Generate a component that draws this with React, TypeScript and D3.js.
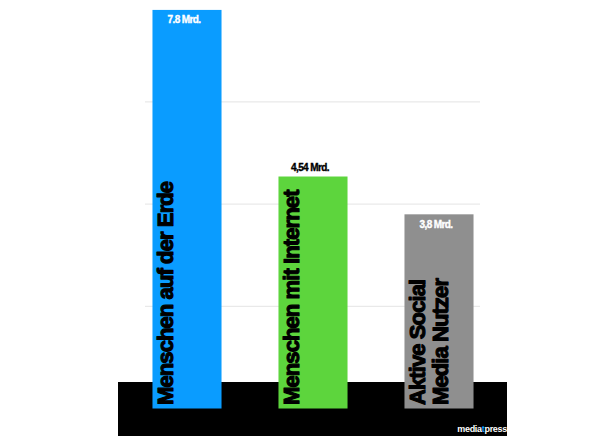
import React from "react";
import * as d3 from "d3";

const categories = ["Menschen auf der Erde", "Menschen mit Internet", "Aktive Social Media Nutzer"];
const categoryLines = [["Menschen auf der Erde"], ["Menschen mit Internet"], ["Aktive Social", "Media Nutzer"]];
const values = [7.8, 4.54, 3.8];
const valueLabels = ["7.8 Mrd.", "4,54 Mrd.", "3,8 Mrd."];
const barColors = ["#0a9cff", "#5dd53d", "#8f8f8f"];
const valueLabelColors = ["#ffffff", "#000000", "#ffffff"];
const valueLabelInside = [true, false, true];
const gridTicks = [2, 4, 6];

const W = 599;
const H = 436;

export default function App() {
  const x = d3
    .scaleBand<string>()
    .domain(categories)
    .range([124, 502])
    .paddingInner(0.452)
    .paddingOuter(0.226);
  const y = d3.scaleLinear().domain([0, 8]).range([408.5, -0.3]);
  const bw = x.bandwidth();
  const font = "'Liberation Sans', Arial, sans-serif";

  return (
    <svg
      width={W}
      height={H}
      style={{ position: "absolute", left: 0, top: 0, background: "#fff" }}
      fontFamily={font}
    >
      {gridTicks.map((t) => (
        <line key={t} x1={145} x2={480} y1={y(t)} y2={y(t)} stroke="#e4e4e4" strokeWidth={1} />
      ))}
      <rect x={118} y={382} width={389} height={H - 382} fill="#000" />
      {categories.map((c, i) => {
        const bx = x(c)!;
        const top = y(values[i]);
        const cx = bx + bw / 2;
        const lines = categoryLines[i];
        return (
          <g key={c}>
            <rect x={bx} y={top} width={bw} height={y(0) - top} fill={barColors[i]} />
            <text
              x={cx - 3}
              y={valueLabelInside[i] ? top + 13.5 : top - 6}
              textAnchor="middle"
              fontSize={10}
              fontWeight={700}
              letterSpacing={-0.6}
              fill={valueLabelColors[i]}
              stroke={valueLabelColors[i]}
              strokeWidth={0.35}
            >
              {valueLabels[i]}
            </text>
            {lines.map((ln, j) => {
              const tx = bx + 21 + j * 23;
              const ty = 405;
              return (
                <text
                  key={j}
                  transform={`translate(${tx},${ty}) rotate(-90)`}
                  fontSize={22}
                  fontWeight={700}
                  letterSpacing={-0.9}
                  fill="#000"
                  stroke="#000"
                  strokeWidth={1.1}
                  strokeLinejoin="round"
                >
                  {ln}
                </text>
              );
            })}
          </g>
        );
      })}
      <text
        x={507}
        y={432}
        textAnchor="end"
        fontSize={9}
        fontWeight={700}
        fill="#fff"
        letterSpacing={-0.3}
      >
        media<tspan fill="#0a9cff">t</tspan>press
      </text>
    </svg>
  );
}
